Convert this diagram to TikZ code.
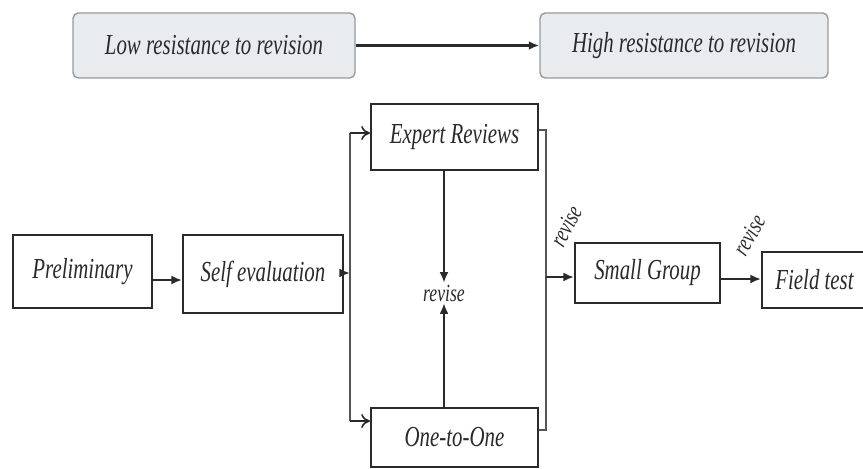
\documentclass[tikz,border=0pt]{standalone}
\usepackage{fontspec}
\setmainfont{Liberation Serif}[FakeStretch=0.72]
\usetikzlibrary{arrows.meta}
\definecolor{levelfill}{HTML}{E9ECEF}
\definecolor{ink}{HTML}{2A2A2A}
\begin{document}
\begin{tikzpicture}[x=0.02cm,y=-0.02cm,
    stage/.style={draw=ink,line width=1.2pt,fill=white,text=ink,inner sep=0pt,
      font=\itshape\fontsize{16.5}{18}\selectfont},
    level/.style={draw=black!40,line width=0.8pt,fill=levelfill,rounded corners=3pt,text=ink,
      inner sep=0pt,font=\itshape\fontsize{16.5}{18}\selectfont},
    flow/.style={draw=ink,line width=1.1pt,-{Latex[length=6pt,width=5pt]}},
    open/.style={draw=ink,line width=0.9pt,-{To[length=5pt,width=8pt]}},
    bus/.style={draw=ink!80,line width=1.2pt},
    note/.style={text=ink,inner sep=1pt,font=\itshape\fontsize{14}{15}\selectfont}]
  \useasboundingbox (0,0) rectangle (863,468);

  \node[level,minimum width=5.64cm,minimum height=1.3cm] (low) at (214,45.5) {Low resistance to revision};
  \node[level,minimum width=5.76cm,minimum height=1.3cm] (high) at (684,45.5) {High resistance to revision};
  \draw[flow,line width=1.6pt] (low) -- (high);

  \node[stage,minimum width=2.78cm,minimum height=1.46cm] (prelim) at (82.5,271.5) {Preliminary};
  \node[stage,minimum width=3.2cm,minimum height=1.56cm] (self) at (263,274) {Self evaluation};
  \node[stage,minimum width=3.34cm,minimum height=1.32cm] (expert) at (454.5,137) {Expert Reviews};
  \node[stage,minimum width=3.34cm,minimum height=1.18cm] (one) at (454.5,437.5) {One-to-One};
  \node[stage,minimum width=2.9cm,minimum height=1.2cm] (small) at (647.5,273) {Small Group};
  \node[stage,minimum width=2.1cm,minimum height=1.12cm] (field) at (814.5,280) {Field test};
  \node[note] (rev) at (444,293) {revise};
  \node[note,rotate=62] (revsmall) at (566,226) {revise};
  \node[note,rotate=60] (revfield) at (749,235) {revise};

  \coordinate (split) at (350,273);
  \coordinate (ltop) at (350,133);
  \coordinate (lbot) at (350,421);
  \coordinate (rtop) at (546,130);
  \coordinate (rbot) at (546,430);
  \coordinate (merge) at (546,277);

  \draw[flow] (prelim.east |- 0,280) -- (self.west |- 0,280);
  \draw[flow] (self.east |- split) -- (split);
  \draw[bus] (ltop) -- (lbot);
  \draw[open] (ltop) -- (expert.west |- ltop);
  \draw[open] (lbot) -- (one.west |- lbot);
  \draw[flow,line width=0.9pt] (444,170) -- (rev.north);
  \draw[flow,line width=0.9pt] (444,408) -- (rev.south);
  \draw[bus] (expert.east |- rtop) -- (rtop) -- (rbot) -- (one.east |- rbot);
  \draw[flow] (merge) -- (small.west |- merge);
  \draw[flow] (small.east |- 0,279) -- (field.west |- 0,279);
\end{tikzpicture}
\end{document}
